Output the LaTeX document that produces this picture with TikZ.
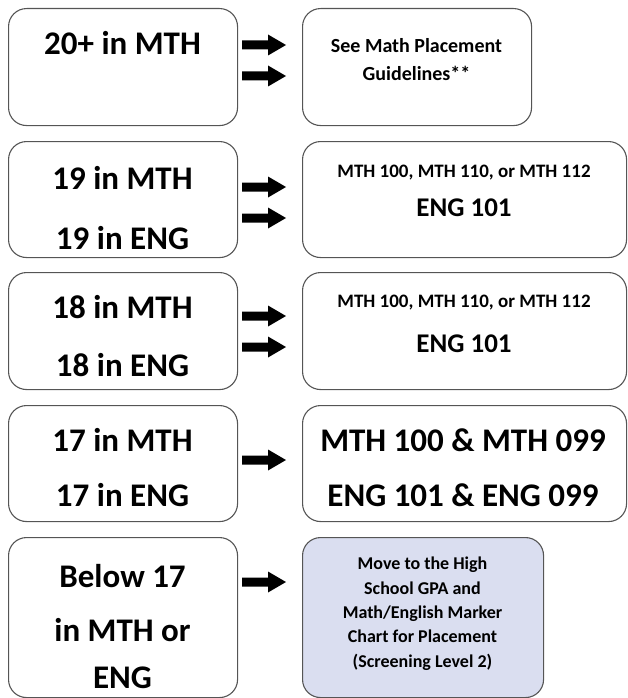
\documentclass[tikz,border=0pt]{standalone}
\usepackage{fontspec}
\setmainfont{Carlito}
\definecolor{boxline}{RGB}{85,85,85}
\definecolor{bluefill}{RGB}{218,222,240}
\tikzset{
  box/.style={draw=boxline, line width=1.1pt, rounded corners=18pt, inner sep=0pt, anchor=north west},
  blockarrow/.pic={\fill[black] (-22,-4.5) -- (4,-4.5) -- (4,-10.5) -- (22,0) -- (4,10.5) -- (4,4.5) -- (-22,4.5) -- cycle;},
  big/.style={font=\fontsize{33}{33}\selectfont\bfseries, anchor=base, inner sep=0pt},
  mid/.style={font=\fontsize{27}{27}\selectfont\bfseries, anchor=base, inner sep=0pt},
  small/.style={font=\fontsize{20}{20}\selectfont\bfseries, anchor=base, inner sep=0pt},
  tiny/.style={font=\fontsize{19}{19}\selectfont\bfseries, anchor=base, inner sep=0pt},
  blue/.style={font=\fontsize{18}{18}\selectfont\bfseries, anchor=base, inner sep=0pt},
}
\begin{document}
\begin{tikzpicture}[x=1pt, y=-1pt]
\useasboundingbox (0,0) rectangle (627,698);
% row 1
\node[box, minimum width=229pt, minimum height=117pt] (l1) at (8,8) {};
\node[box, minimum width=229pt, minimum height=117pt] (r1) at (302,8) {};
\node[big] (t1) at (122.5,55) {20+ in MTH};
\node[small] (u1a) at (416.5,53) {See Math Placement};
\node[small] (u1b) at (416.5,80.5) {Guidelines**};
\pic at (264,45) {blockarrow};
\pic at (264,76) {blockarrow};
% row 2
\node[box, minimum width=229pt, minimum height=116pt] (l2) at (8,141) {};
\node[box, minimum width=324pt, minimum height=116pt] (r2) at (302,141) {};
\node[big] (t2a) at (122.5,189) {19 in MTH};
\node[big] (t2b) at (122.5,249) {19 in ENG};
\node[tiny] (u2a) at (464,177) {MTH 100, MTH 110, or MTH 112};
\node[mid] (u2b) at (464,216) {ENG 101};
\pic at (264,187) {blockarrow};
\pic at (264,218) {blockarrow};
% row 3
\node[box, minimum width=229pt, minimum height=117pt] (l3) at (8,272) {};
\node[box, minimum width=324pt, minimum height=117pt] (r3) at (302,272) {};
\node[big] (t3a) at (122.5,318) {18 in MTH};
\node[big] (t3b) at (122.5,376) {18 in ENG};
\node[tiny] (u3a) at (464,307) {MTH 100, MTH 110, or MTH 112};
\node[mid] (u3b) at (464,352) {ENG 101};
\pic at (264,316) {blockarrow};
\pic at (264,347) {blockarrow};
% row 4
\node[box, minimum width=229pt, minimum height=116pt] (l4) at (8,405) {};
\node[box, minimum width=324pt, minimum height=116pt] (r4) at (302,405) {};
\node[big] (t4a) at (122.5,451) {17 in MTH};
\node[big] (t4b) at (122.5,506) {17 in ENG};
\node[big] (u4a) at (463,451) {MTH 100 \& MTH 099};
\node[big] (u4b) at (463,506) {ENG 101 \& ENG 099};
\pic at (264,460) {blockarrow};
% row 5
\node[box, minimum width=229pt, minimum height=160pt] (l5) at (8,537) {};
\node[box, fill=bluefill, minimum width=241pt, minimum height=160pt] (r5) at (302,537) {};
\node[big] (t5a) at (122.5,587) {Below 17};
\node[big] (t5b) at (122.5,641) {in MTH or};
\node[big] (t5c) at (122.5,688) {ENG};
\node[blue] (u5a) at (422.5,569.5) {Move to the High};
\node[blue] (u5b) at (422.5,594) {School GPA and};
\node[blue] (u5c) at (422.5,618) {Math/English Marker};
\node[blue] (u5d) at (422.5,642.5) {Chart for Placement};
\node[blue] (u5e) at (422.5,667) {(Screening Level 2)};
\pic at (264,582) {blockarrow};
\end{tikzpicture}
\end{document}
